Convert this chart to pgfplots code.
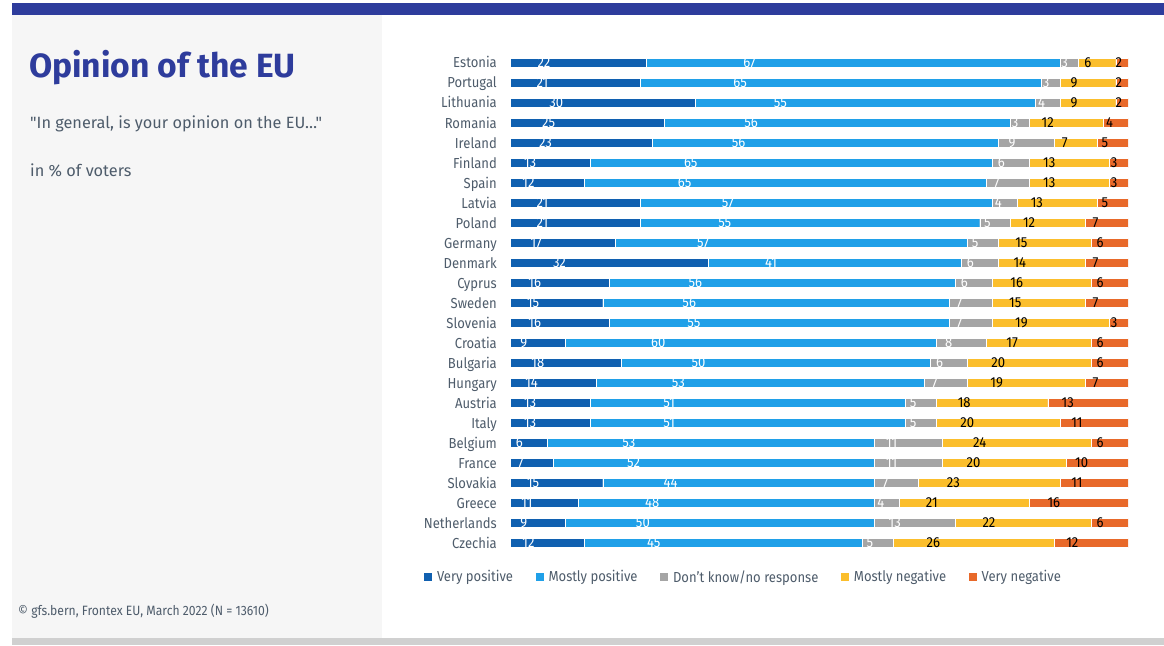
\documentclass[border=0pt]{standalone}
\usepackage{fontspec}
\setmainfont{Fira Sans}
\newfontfamily\cond[FakeStretch=0.9]{Fira Sans}
\newfontfamily\subfont[Ligatures=TeXOff]{Fira Sans}
\usepackage{pgfplots}
\usepackage{pgfplotstable}
\pgfplotsset{compat=1.18}
\definecolor{vpc}{HTML}{1060B0}
\definecolor{mpc}{HTML}{20A0E8}
\definecolor{dkc}{HTML}{A5A5A5}
\definecolor{mnc}{HTML}{FBBE2C}
\definecolor{vnc}{HTML}{E8692A}
\definecolor{titleblue}{HTML}{2E3C9C}
\definecolor{txtgrey}{HTML}{4E5C6B}
\definecolor{panel}{HTML}{F6F6F6}
\definecolor{botbar}{HTML}{D0D0D0}

\pgfplotstableread{
idx country vp mp dk mn vn
0 Estonia 22 67 3 6 2
1 Portugal 21 65 3 9 2
2 Lithuania 30 55 4 9 2
3 Romania 25 56 3 12 4
4 Ireland 23 56 9 7 5
5 Finland 13 65 6 13 3
6 Spain 12 65 7 13 3
7 Latvia 21 57 4 13 5
8 Poland 21 55 5 12 7
9 Germany 17 57 5 15 6
10 Denmark 32 41 6 14 7
11 Cyprus 16 56 6 16 6
12 Sweden 15 56 7 15 7
13 Slovenia 16 55 7 19 3
14 Croatia 9 60 8 17 6
15 Bulgaria 18 50 6 20 6
16 Hungary 14 53 7 19 7
17 Austria 13 51 5 18 13
18 Italy 13 51 5 20 11
19 Belgium 6 53 11 24 6
20 France 7 52 11 20 10
21 Slovakia 15 44 7 23 11
22 Greece 11 48 4 21 16
23 Netherlands 9 50 13 22 6
24 Czechia 12 45 5 26 12
}\datatable

\pgfplotsset{
  seg/.style n args={2}{
    fill=#1, draw=white, line width=0.3pt,
    visualization depends on={rawx\as\rawv},
    nodes near coords={\pgfmathtruncatemacro{\lab}{round(\rawv)}\lab},
    every node near coord/.append style={text=#2, anchor=center, inner sep=0pt,
      xshift={-1.545*\rawv}, font=\cond\fontsize{14.5}{14.5}\selectfont},
  },
}

\begin{document}
\begin{tikzpicture}[x=1pt,y=1pt]
\fill[white] (0,0) rectangle (1164,645);
\fill[panel] (12,7) rectangle (382,630);
\fill[titleblue] (12,630) rectangle (1164,642);
\fill[botbar] (12,0) rectangle (1164,7);

\node[anchor=base west, inner sep=0pt, text=titleblue, font=\fontsize{33.6}{36}\selectfont\bfseries] at (29,567) {Opinion of the EU};
\node[anchor=base west, inner sep=0pt, text=txtgrey, font=\subfont\fontsize{16.3}{18}\selectfont] at (30,516) {"In general, is your opinion on the EU…"};
\node[anchor=base west, inner sep=0pt, text=txtgrey, font=\subfont\fontsize{16.3}{18}\selectfont] at (30,468) {in \% of voters};
\node[anchor=base west, inner sep=0pt, text=txtgrey, font=\cond\fontsize{13.5}{15}\selectfont] at (18,30) {© gfs.bern, Frontex EU, March 2022 (N = 13610)};

\begin{axis}[
  at={(510pt,92pt)}, anchor=south west,
  scale only axis, width=618pt, height=500pt,
  xbar stacked, bar width=9pt,
  xmin=0, xmax=100, ymin=-0.5, ymax=24.5, y dir=reverse,
  axis line style={draw=none}, tick style={draw=none},
  xtick=\empty, ytick={0,...,24},
  yticklabels from table={\datatable}{country},
  yticklabel style={anchor=base east, inner sep=0pt, xshift=-13pt, yshift=-5pt, text=txtgrey, font=\cond\fontsize{14.5}{15}\selectfont},
  legend columns=5,
  legend style={at={(-0.1443,-0.048)}, anchor=west, draw=none, fill=none,
    font=\cond\fontsize{14.5}{15}\selectfont, text=txtgrey,
    /tikz/every even column/.append style={column sep=20.5pt},
    /tikz/every odd column/.append style={column sep=3pt}},
  legend image code/.code={\fill[#1,draw=none] (0pt,-3.5pt) rectangle (8pt,4.5pt);},
]
\addplot[seg={vpc}{white}] table[x=vp, y=idx] {\datatable};
\addlegendentry{Very positive}
\addplot[seg={mpc}{white}] table[x=mp, y=idx] {\datatable};
\addlegendentry{Mostly positive}
\addplot[seg={dkc}{white}] table[x=dk, y=idx] {\datatable};
\addlegendentry{Don’t know/no response}
\addplot[seg={mnc}{black}] table[x=mn, y=idx] {\datatable};
\addlegendentry{Mostly negative}
\addplot[seg={vnc}{black}] table[x=vn, y=idx] {\datatable};
\addlegendentry{Very negative}
\end{axis}
\end{tikzpicture}
\end{document}
